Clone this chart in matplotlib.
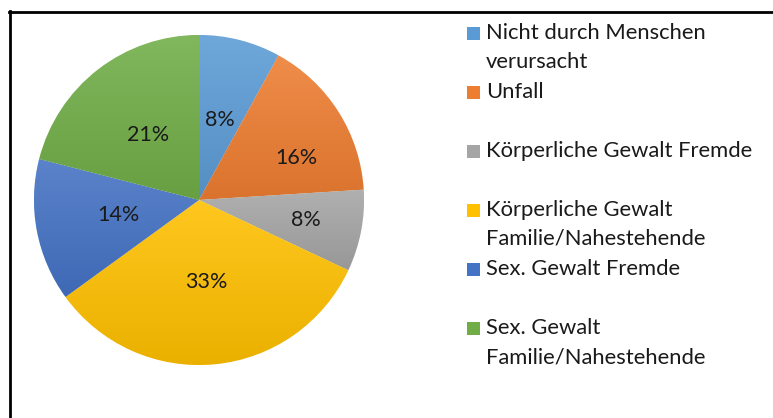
import numpy as np
import matplotlib.pyplot as plt
from matplotlib.colors import to_rgb
from matplotlib.lines import Line2D
from matplotlib.patches import Rectangle

kategorien = ['Nicht durch Menschen\nverursacht', 'Unfall', 'Körperliche Gewalt Fremde',
              'Körperliche Gewalt\nFamilie/Nahestehende', 'Sex. Gewalt Fremde',
              'Sex. Gewalt\nFamilie/Nahestehende']
anteile = [8, 16, 8, 33, 14, 21]
farben = ['#5B9BD5', '#ED7D31', '#A5A5A5', '#FFC000', '#4472C4', '#70AD47']

plt.rcParams['font.family'] = ['Lato', 'DejaVu Sans']

fig = plt.figure(figsize=(7.73, 4.18), dpi=100)
ax = fig.add_axes([34 / 773, 53 / 418, 330 / 773, 330 / 418])

wedges, texte, autotexte = ax.pie(anteile, colors=farben, startangle=90, counterclock=False,
                                  autopct='%1.0f%%', pctdistance=0.5,
                                  wedgeprops=dict(edgecolor='white', linewidth=0.5),
                                  textprops=dict(fontsize=15.5, color='#1a1a1a', zorder=5))
ax.set_aspect('equal')
ax.set_xlim(-1, 1)
ax.set_ylim(-1, 1)

# Verlauf wie bei Excel: oben heller, unten dunkler
for w, farbe in zip(wedges, farben):
    c = np.array(to_rgb(farbe))
    oben = c + (1 - c) * 0.12
    unten = c * 0.92
    t = np.linspace(0, 1, 64)[:, None]
    grad = (oben * (1 - t) + unten * t)[:, None, :]
    ext = w.get_path().get_extents()
    im = ax.imshow(grad, extent=[ext.x0, ext.x1, ext.y0, ext.y1], origin='upper',
                   aspect='auto', zorder=w.get_zorder() + 0.1, interpolation='bilinear')
    im.set_clip_path(w)
ax.set_xlim(-1, 1)
ax.set_ylim(-1, 1)

# kleine Segmente rechts etwas weiter außen beschriften
for i, r, verschiebung in [(1, 0.64, 9), (2, 0.66, 0)]:
    w = wedges[i]
    winkel = np.deg2rad((w.theta1 + w.theta2) / 2 - verschiebung)
    autotexte[i].set_position((r * np.cos(winkel), r * np.sin(winkel)))

# Legende wie in Excel: feste Abstände, Markierung an der ersten Zeile
y0 = 1 - 33 / 418
schritt = 59 / 418
zeile = 29 / 418
for i, (name, farbe) in enumerate(zip(kategorien, farben)):
    y = y0 - i * schritt
    fig.patches.append(Rectangle((467 / 773, y - 7 / 418), 13 / 773, 13 / 418,
                                 transform=fig.transFigure, facecolor=farbe,
                                 edgecolor='none'))
    for j, teil in enumerate(name.split('\n')):
        fig.text(486 / 773, y - j * zeile, teil, fontsize=15.8, va='center', ha='left',
                 color='#1a1a1a')

# Rahmen links und oben
fig.add_artist(Line2D([10 / 773, 10 / 773], [0, 1 - 11 / 418], color='black', linewidth=2,
                      transform=fig.transFigure))
fig.add_artist(Line2D([9 / 773, 1], [1 - 12 / 418, 1 - 12 / 418], color='black', linewidth=2,
                      transform=fig.transFigure))

fig.savefig('out.png', dpi=100)
